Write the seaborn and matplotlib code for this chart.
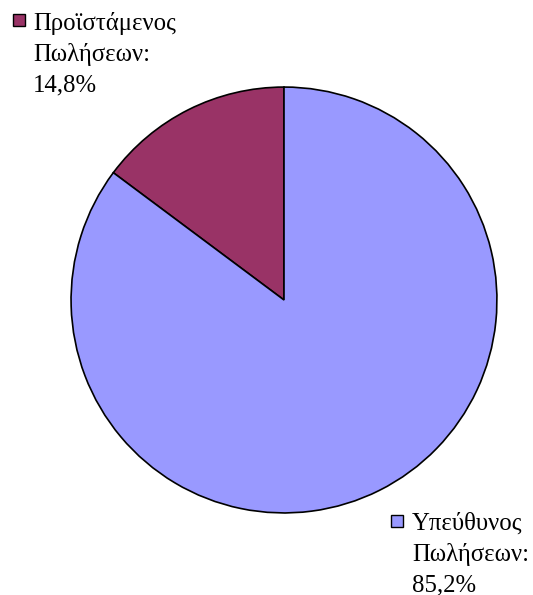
import matplotlib
matplotlib.use("Agg")
import matplotlib.pyplot as plt
from matplotlib.patches import Rectangle
import seaborn as sns

categories = ["Προϊστάμενος Πωλήσεων", "Υπεύθυνος Πωλήσεων"]
values = [14.8, 85.2]
label_lines = [["Προϊστάμενος", "Πωλήσεων:", "14,8%"],
               ["Υπεύθυνος", "Πωλήσεων:", "85,2%"]]
colors = ["#993366", "#9999FF"]

sns.set_style("white")
plt.rcParams["font.family"] = ["Liberation Serif", "DejaVu Serif"]

W, H = 533, 595
fig = plt.figure(figsize=(W / 100, H / 100), dpi=100)
cx, cy, r = 284, 300, 214
ax = fig.add_axes([(cx - r) / W, (H - cy - r) / H, 2 * r / W, 2 * r / H])
ax.pie(values, colors=colors, startangle=90, counterclock=True,
       wedgeprops=dict(edgecolor="black", linewidth=1.2), radius=1.0)
ax.set_xlim(-1.005, 1.005)
ax.set_ylim(-1.005, 1.005)
ax.set_aspect("equal")
ax.axis("off")

fs = 17.8
spacing = 30.5
label_pos = [dict(sq=(13, 14), tx=33, base=30), dict(sq=(391, 515), tx=412, base=530)]
for lines, col, pos in zip(label_lines, colors, label_pos):
    sx, sy = pos["sq"]
    fig.add_artist(Rectangle((sx / W, 1 - (sy + 12) / H), 12 / W, 12 / H,
                             transform=fig.transFigure, facecolor=col,
                             edgecolor="black", linewidth=1.0))
    for i, line in enumerate(lines):
        fig.text(pos["tx"] / W, 1 - (pos["base"] + i * spacing) / H, line,
                 fontsize=fs, va="baseline", ha="left", color="black")

fig.savefig("out.png", dpi=100)
